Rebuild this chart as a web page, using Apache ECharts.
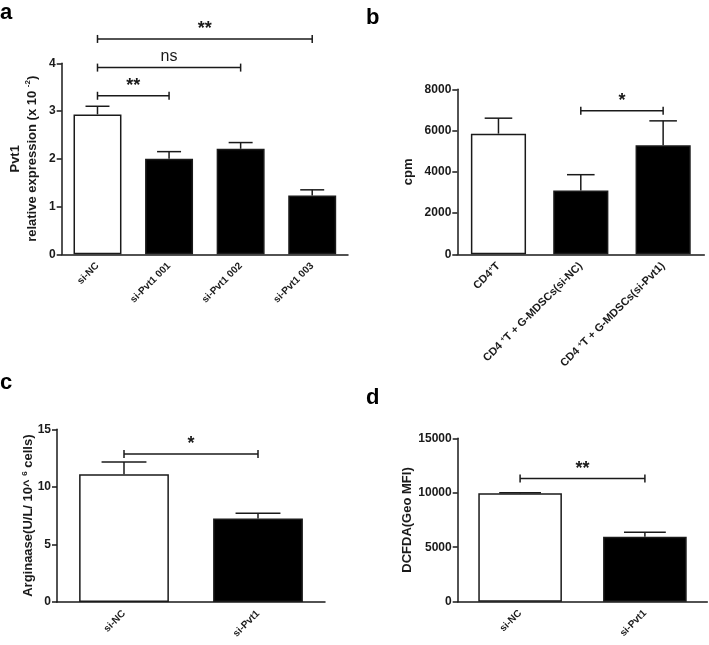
<!DOCTYPE html>
<html>
<head>
<meta charset="utf-8">
<script src="https://cdn.jsdelivr.net/npm/echarts@6/dist/echarts.min.js"></script>
<style>
html, body { margin: 0; padding: 0; background: #fff; }
#main { width: 709px; height: 645px; }
</style>
</head>
<body>
<div id="main"></div>
<script>
// ---- panel a : Pvt1 expression ----
var aCategories = ['si-NC', 'si-Pvt1 001', 'si-Pvt1 002', 'si-Pvt1 003'];
var aMeans = [2.93, 2.00, 2.21, 1.23];
var aErrTops = [3.10, 2.15, 2.34, 1.35];
var aYTicks = [0, 1, 2, 3, 4];
var aBrackets = [[0, 1, 3.32, '**'], [0, 2, 3.91, 'ns'], [0, 3, 4.51, '**']];

// ---- panel b : proliferation (cpm) ----
var bCategories = ['CD4+T', 'CD4 +T + G-MDSCs(si-NC)', 'CD4 +T + G-MDSCs(si-Pvt1)'];
var bMeans = [5850, 3090, 5290];
var bErrTops = [6600, 3860, 6470];
var bYTicks = [0, 2000, 4000, 6000, 8000];
var bBrackets = [[1, 2, 6960, '*']];

// ---- panel c : arginase ----
var cCategories = ['si-NC', 'si-Pvt1'];
var cMeans = [11.1, 7.25];
var cErrTops = [12.15, 7.7];
var cYTicks = [0, 5, 10, 15];
var cBrackets = [[0, 1, 12.85, '*']];

// ---- panel d : DCFDA ----
var dCategories = ['si-NC', 'si-Pvt1'];
var dMeans = [9960, 5970];
var dErrTops = [10010, 6370];
var dYTicks = [0, 5000, 10000, 15000];
var dBrackets = [[0, 1, 11300, '**']];

var FONT = 'Arial, "Liberation Sans", Helvetica, sans-serif';
var INK = '#1a1a1a';
var BAR_RATIO = 0.67;

var panels = [
	{
		letter: 'a', letterPos: [0, 12.5],
		cats: aCategories, means: aMeans, errs: aErrTops, ticks: aYTicks, brackets: aBrackets,
		grid: { left: 61.7, top: 63.3, width: 286.3, height: 191 },
		yName: 'Pvt1\nrelative expression (x 10 {sup|-2})', nameGap: 21, nameLH: 17, xFont: 10
	},
	{
		letter: 'b', letterPos: [366, 17.5],
		cats: bCategories, means: bMeans, errs: bErrTops, ticks: bYTicks, brackets: bBrackets,
		grid: { left: 457.3, top: 89.3, width: 247, height: 165 },
		yName: 'cpm', nameGap: 41, nameLH: 15, xFont: 11
	},
	{
		letter: 'c', letterPos: [0, 383],
		cats: cCategories, means: cMeans, errs: cErrTops, ticks: cYTicks, brackets: cBrackets,
		grid: { left: 57, top: 429.3, width: 268, height: 172.7 },
		yName: 'Arginaase(U/L/ 10^ {sup|6} cells)', nameGap: 21, nameLH: 15, xFont: 10
	},
	{
		letter: 'd', letterPos: [366, 397.5],
		cats: dCategories, means: dMeans, errs: dErrTops, ticks: dYTicks, brackets: dBrackets,
		grid: { left: 457.7, top: 438.3, width: 249.6, height: 163.4 },
		yName: 'DCFDA(Geo MFI)', nameGap: 43, nameLH: 15, xFont: 10
	}
];

var myChart = echarts.init(document.getElementById('main'));

var option = {
	animation: false,
	backgroundColor: '#fff',
	grid: [],
	xAxis: [],
	yAxis: [],
	series: [],
	graphic: []
};

panels.forEach(function (p, i) {
	option.grid.push({
		left: p.grid.left, top: p.grid.top, width: p.grid.width, height: p.grid.height,
		containLabel: false, outerBoundsMode: 'none'
	});

	option.xAxis.push({
		gridIndex: i,
		type: 'category',
		data: p.cats,
		axisLine: { lineStyle: { color: INK, width: 1.5 } },
		axisTick: { alignWithLabel: true, length: 5, lineStyle: { color: INK, width: 1.5 } },
		axisLabel: {
			interval: 0,
			rotate: 45,
			margin: 10,
			color: INK,
			fontFamily: FONT,
			fontWeight: 'bold',
			fontSize: p.xFont,
			formatter: function (v) {
				return v.replace(/\+T/g, '{sup|+}T');
			},
			rich: {
				sup: { fontSize: 7, fontWeight: 'bold', fontFamily: FONT, color: INK, verticalAlign: 'top', padding: [0, 0, 5, 0] }
			}
		},
		splitLine: { show: false }
	});

	var t = p.ticks;
	option.yAxis.push({
		gridIndex: i,
		type: 'value',
		min: t[0],
		max: t[t.length - 1],
		interval: t[1] - t[0],
		name: p.yName,
		nameLocation: 'middle',
		nameRotate: 90,
		nameGap: p.nameGap,
		nameMoveOverlap: false,
		nameTextStyle: {
			color: INK,
			fontFamily: FONT,
			fontWeight: 'bold',
			fontSize: 13,
			lineHeight: p.nameLH,
			align: 'center',
			rich: {
				sup: { fontSize: 8, fontWeight: 'bold', fontFamily: FONT, color: INK, verticalAlign: 'top', padding: [0, 0, 6, 0] }
			}
		},
		axisLine: { show: true, lineStyle: { color: INK, width: 1.5 } },
		axisTick: { show: true, length: 5, lineStyle: { color: INK, width: 1.5 } },
		axisLabel: {
			margin: 6,
			color: INK,
			fontFamily: FONT,
			fontWeight: 'bold',
			fontSize: 12,
			formatter: function (v) { return String(v); }
		},
		splitLine: { show: false }
	});

	// bars
	option.series.push({
		type: 'bar',
		xAxisIndex: i,
		yAxisIndex: i,
		barWidth: (BAR_RATIO * 100) + '%',
		data: p.means.map(function (v, k) {
			return {
				value: v,
				itemStyle: k === 0
					? { color: '#fff', borderColor: INK, borderWidth: 1.5 }
					: { color: '#000', borderColor: INK, borderWidth: 1.5 }
			};
		}),
		z: 2
	});

	// error bars (mean -> mean + SEM, cap half the bar width)
	option.series.push({
		type: 'custom',
		xAxisIndex: i,
		yAxisIndex: i,
		clip: false,
		z: 3,
		encode: { x: 0, y: [1, 2] },
		data: p.means.map(function (v, k) { return [k, v, p.errs[k]]; }),
		renderItem: function (params, api) {
			var lo = api.coord([api.value(0), api.value(1)]);
			var hi = api.coord([api.value(0), api.value(2)]);
			var half = api.size([1, 0])[0] * BAR_RATIO / 4;
			var st = { stroke: INK, lineWidth: 1.5, fill: null };
			return {
				type: 'group',
				children: [
					{ type: 'line', shape: { x1: lo[0], y1: lo[1], x2: hi[0], y2: hi[1] }, style: st },
					{ type: 'line', shape: { x1: hi[0] - half, y1: hi[1], x2: hi[0] + half, y2: hi[1] }, style: st }
				]
			};
		}
	});

	// significance brackets
	var br = p.brackets;
	option.series.push({
		type: 'custom',
		xAxisIndex: i,
		yAxisIndex: i,
		clip: false,
		z: 3,
		encode: { x: [0, 1], y: 2 },
		data: br.map(function (b) { return [b[0], b[1], b[2]]; }),
		renderItem: function (params, api) {
			var p1 = api.coord([api.value(0), api.value(2)]);
			var p2 = api.coord([api.value(1), api.value(2)]);
			var label = br[params.dataIndex][3];
			var st = { stroke: INK, lineWidth: 1.5, fill: null };
			var isStar = label.indexOf('*') >= 0;
			return {
				type: 'group',
				children: [
					{ type: 'line', shape: { x1: p1[0], y1: p1[1], x2: p2[0], y2: p2[1] }, style: st },
					{ type: 'line', shape: { x1: p1[0], y1: p1[1] - 4, x2: p1[0], y2: p1[1] + 4 }, style: st },
					{ type: 'line', shape: { x1: p2[0], y1: p2[1] - 4, x2: p2[0], y2: p2[1] + 4 }, style: st },
					{
						type: 'text',
						x: (p1[0] + p2[0]) / 2,
						y: p1[1] - (isStar ? 1 : 3),
						style: {
							text: label,
							align: 'center',
							verticalAlign: 'bottom',
							fill: INK,
							fontFamily: FONT,
							fontWeight: isStar ? 'bold' : 'normal',
							fontSize: isStar ? 18 : 16
						}
					}
				]
			};
		}
	});

	option.graphic.push({
		type: 'text',
		x: p.letterPos[0],
		y: p.letterPos[1],
		style: {
			text: p.letter,
			fill: '#000',
			fontFamily: FONT,
			fontWeight: 'bold',
			fontSize: 22,
			verticalAlign: 'middle'
		}
	});
});

myChart.setOption(option);
</script>
</body>
</html>
